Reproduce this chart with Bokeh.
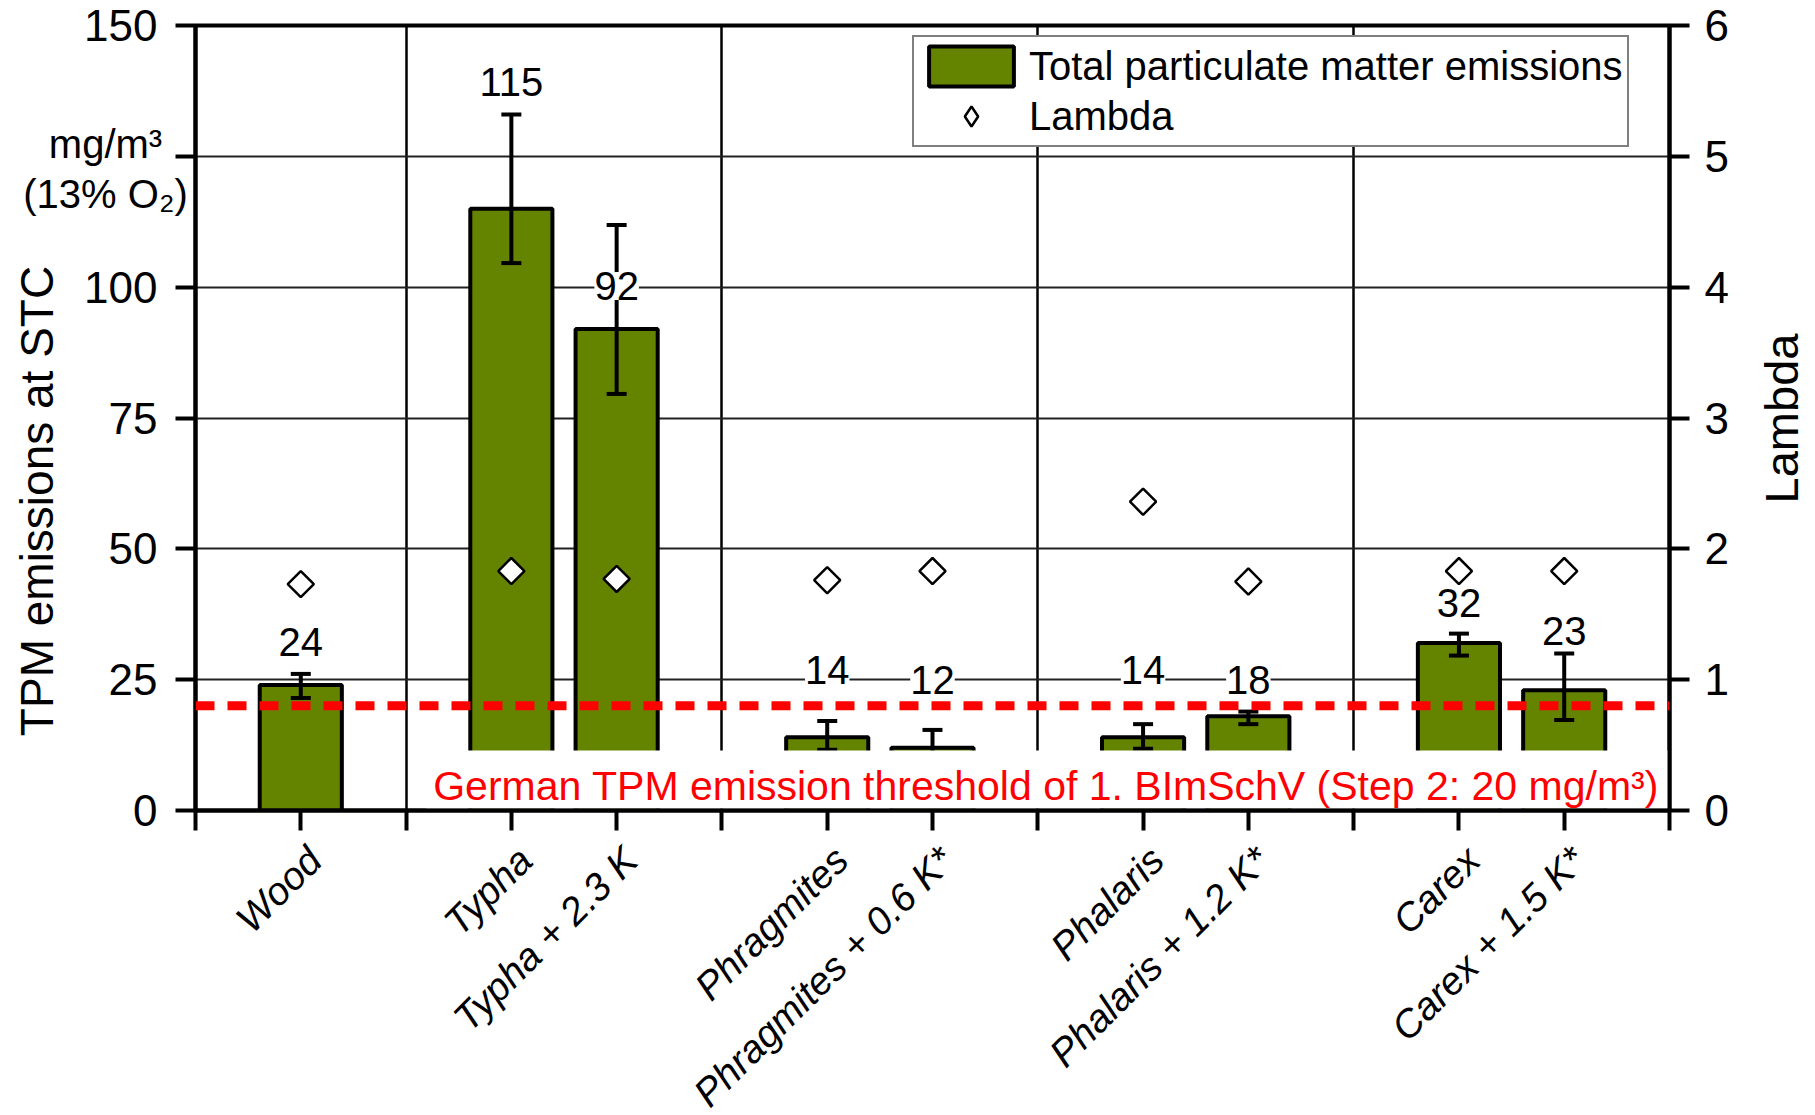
import math

from bokeh.core.properties import value
from bokeh.embed import file_html
from bokeh.models import (ColumnDataSource, FixedTicker, Label, LabelSet, Legend,
                          LegendItem, LinearAxis, Range1d, Span, TeeHead, Whisker)
from bokeh.plotting import figure
from bokeh.resources import INLINE

# ---- data -----------------------------------------------------------------
groups = [
    ["Wood"],
    ["Typha", "Typha + 2.3 K"],
    ["Phragmites", "Phragmites + 0.6 K*"],
    ["Phalaris", "Phalaris + 1.2 K*"],
    ["Carex", "Carex + 1.5 K*"],
]
tpm = [24, 115, 92, 14, 12, 14, 18, 32, 23]                  # mg/m3 at 13 % O2
tpm_upper = [26.1, 133.0, 111.9, 17.1, 15.4, 16.5, 18.9, 33.8, 30.0]
tpm_lower = [21.5, 104.6, 79.6, 11.6, 8.6, 11.8, 16.5, 29.6, 17.3]
lambda_vals = [1.73, 1.83, 1.77, 1.76, 1.83, 2.36, 1.75, 1.83, 1.83]
threshold = 20                                               # 1. BImSchV, step 2
tpm_ticks = [0, 25, 50, 75, 100, 125, 150]
lambda_ticks = [0, 1, 2, 3, 4, 5, 6]

# ---- slots: one empty slot between groups ------------------------------------
categories, xpos, separators = [], [], []
slot = 0
for g in groups:
    for name in g:
        slot += 1
        categories.append(name)
        xpos.append(slot)
    slot += 1
    separators.append(slot)
n_slots = slot
separators = separators[:-1]

# vertical lift of each value label above its error-bar top (px)
label_lift = [32, 32, -61, 51, 50, 54, 32, 31, 23]

FONT = "Liberation Sans"
GREEN = "#648400"
W, H = 1815, 1115

src = ColumnDataSource(dict(
    x=xpos, tpm=tpm, hi=tpm_upper, lo=tpm_lower, lam=lambda_vals,
    lbl=[str(v) for v in tpm], lift=label_lift,
))

p = figure(width=W, height=H,
           x_range=Range1d(0, n_slots), y_range=Range1d(tpm_ticks[0], tpm_ticks[-1]),
           output_backend="svg", toolbar_location=None,
           min_border_left=195, min_border_right=146,
           min_border_top=25, min_border_bottom=305)
p.extra_y_ranges = {"lam": Range1d(lambda_ticks[0], lambda_ticks[-1])}
p.background_fill_color = "white"
p.border_fill_color = "white"
p.outline_line_color = "black"
p.outline_line_width = 4

# grid: horizontal value lines and vertical group separators
p.ygrid.ticker = FixedTicker(ticks=tpm_ticks[1:-1])
p.ygrid.grid_line_color = "#222222"
p.ygrid.grid_line_width = 1.8
p.xgrid.ticker = FixedTicker(ticks=separators)
p.xgrid.grid_line_color = "black"
p.xgrid.grid_line_width = 2.5


def style_axis(ax, size="44px"):
    ax.axis_line_color = "black"
    ax.axis_line_width = 4
    ax.major_tick_line_color = "black"
    ax.major_tick_line_width = 4
    ax.major_tick_out = 20
    ax.major_tick_in = 0
    ax.minor_tick_line_color = None
    ax.major_label_text_font = FONT
    ax.major_label_text_font_size = size
    ax.major_label_text_color = "black"


yax = p.yaxis[0]
yax.ticker = FixedTicker(ticks=tpm_ticks)
style_axis(yax)
yax.major_label_standoff = 18
yax.major_label_overrides = {125: ""}      # the unit note sits there instead

rax = LinearAxis(y_range_name="lam", ticker=FixedTicker(ticks=lambda_ticks))
style_axis(rax)
rax.major_label_standoff = 15
p.add_layout(rax, "right")

xax = p.xaxis[0]
xax.ticker = FixedTicker(ticks=list(range(0, n_slots + 1)))
style_axis(xax, "0px")
xax.major_label_overrides = {t: "" for t in range(0, n_slots + 1)}

# ---- marks ------------------------------------------------------------------
bars = p.vbar(x="x", top="tpm", width=0.78, source=src,
              fill_color=GREEN, line_color="black", line_width=4)
diamonds = p.scatter(x="x", y="lam", source=src, y_range_name="lam",
                     marker="square", angle=math.pi / 4, size=18.5,
                     fill_color="white", line_color="black", line_width=2.5)
# legend key for Lambda: a single undefined point, so only the legend shows it
lambda_key = p.scatter(x=[math.nan], y=[math.nan], marker="diamond", size=18.5,
                       fill_color="white", line_color="black", line_width=2.5)

err = Whisker(base="x", upper="hi", lower="lo", source=src, level="glyph",
              line_color="black", line_width=4,
              upper_head=TeeHead(size=20, line_color="black", line_width=4),
              lower_head=TeeHead(size=20, line_color="black", line_width=4))
p.add_layout(err)

limit_note = Label(
    x=n_slots, y=tpm_ticks[0], x_offset=3, y_offset=31,
    text="German TPM emission threshold  of 1. BImSchV (Step 2: 20 mg/m³)",
    text_align="right", text_baseline="middle",
    text_font=FONT, text_font_size="41px", text_color="#FF0000",
    background_fill_color="white",
    padding=dict(left=7, right=2, top=12, bottom=0),
    level="glyph",
)
p.add_layout(limit_note)

p.add_layout(Span(location=threshold, dimension="width", line_color="#FF0000",
                  line_width=9, line_dash="19 13"))

p.add_layout(LabelSet(x="x", y="hi", text="lbl", y_offset="lift", source=src,
                      text_align="center", text_baseline="middle",
                      text_font=value(FONT), text_font_size=value("40px"),
                      text_color="black", background_fill_color="white"))

# ---- legend -------------------------------------------------------------------
legend = Legend(
    items=[LegendItem(label="Total particulate matter emissions", renderers=[bars]),
           LegendItem(label="Lambda", renderers=[lambda_key])],
    location=(717, 663),
    border_line_color="black", border_line_width=2,
    background_fill_color="white", background_fill_alpha=1,
    label_text_font=FONT, label_text_font_size="40px", label_text_color="black",
    glyph_width=106, glyph_height=50, label_standoff=5,
    padding=4, spacing=0, margin=0,
)
p.add_layout(legend)


# ---- texts outside the frame (drawn on the overlay level) --------------------
def outside_text(x, y, text, dx, dy, size, angle=0.0, align="center", style="normal"):
    p.text(x=x, y=y, text=text, x_offset=dx, y_offset=dy, angle=angle,
           text_font=value(FONT), text_font_size=value(size), text_font_style=style,
           text_align=align, text_baseline="middle", text_color="black",
           level="overlay")


# category names, rotated under the ticks
outside_text(xpos, [tpm_ticks[0]] * len(xpos), categories, 14, 43, "39px",
             angle=math.pi / 4, align="right", style="italic")
# axis titles and unit note
outside_text([0], [tpm_ticks[0]], ["TPM emissions at STC"], -159, -309.5, "46px",
             angle=math.pi / 2)
outside_text([n_slots], [tpm_ticks[0]], ["Lambda"], 112, -392, "47px",
             angle=math.pi / 2)
outside_text([0], [tpm_ticks[0]], ["mg/m³"], -90, -666.5, "40px")
outside_text([0], [tpm_ticks[0]], ["(13% O₂)"], -90, -616.5, "40px")

open("out.html", "w").write(file_html(p, INLINE))
